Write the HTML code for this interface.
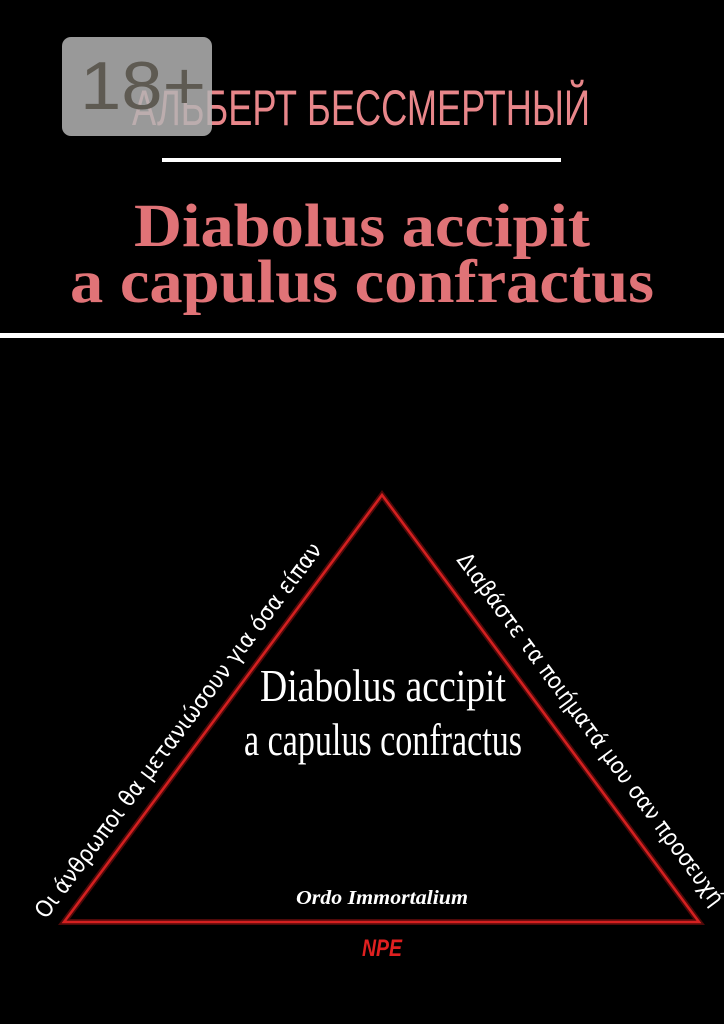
<!DOCTYPE html>
<html><head><meta charset="utf-8"><style>
html,body{margin:0;padding:0;background:#000;width:724px;height:1024px;overflow:hidden}
svg{display:block}
</style></head><body>
<svg width="724" height="1024" viewBox="0 0 724 1024" xmlns="http://www.w3.org/2000/svg">
<rect width="724" height="1024" fill="#000"/>
<text x="132" y="125" font-family="Liberation Sans, sans-serif" font-size="50" fill="#e8868a" textLength="458" lengthAdjust="spacingAndGlyphs">АЛЬБЕРТ БЕССМЕРТНЫЙ</text>
<rect x="62" y="37" width="150" height="99" rx="9" fill="#b4b4b4" fill-opacity="0.85"/>
<text x="80" y="109" font-family="Liberation Sans, sans-serif" font-size="68" fill="#5e5a52" textLength="126" lengthAdjust="spacingAndGlyphs">18+</text>
<rect x="162" y="158" width="399" height="4" fill="#fff"/>
<text x="362" y="246" text-anchor="middle" font-family="Liberation Serif, serif" font-weight="bold" font-size="61" fill="#e07377" textLength="456" lengthAdjust="spacingAndGlyphs">Diabolus accipit</text>
<text x="362" y="302" text-anchor="middle" font-family="Liberation Serif, serif" font-weight="bold" font-size="61" fill="#e07377" textLength="584" lengthAdjust="spacingAndGlyphs">a capulus confractus</text>
<rect x="0" y="333" width="724" height="5" fill="#fff"/>
<polygon points="382,495 64,922 699,922" fill="none" stroke="#e01a1a" stroke-width="6" stroke-opacity="0.35"/>
<polygon points="382,495 64,922 699,922" fill="none" stroke="#d42020" stroke-width="2.5"/>
<text transform="translate(46,920) rotate(-53.2)" font-family="DejaVu Sans, sans-serif" font-size="23" fill="#fff" textLength="462" lengthAdjust="spacingAndGlyphs">Οι άνθρωποι θα μετανιώσουν για όσα είπαν</text>
<text transform="translate(456,560) rotate(53.5)" font-family="DejaVu Sans, sans-serif" font-size="23" fill="#fff" textLength="432" lengthAdjust="spacingAndGlyphs">Διαβάστε τα ποιήματά μου σαν προσευχή</text>
<text x="383" y="701" text-anchor="middle" font-family="Liberation Serif, serif" font-size="46" fill="#fff" textLength="246" lengthAdjust="spacingAndGlyphs">Diabolus accipit</text>
<text x="383" y="755" text-anchor="middle" font-family="Liberation Serif, serif" font-size="46" fill="#fff" textLength="278" lengthAdjust="spacingAndGlyphs">a capulus confractus</text>
<text x="382" y="904" text-anchor="middle" font-family="Liberation Serif, serif" font-style="italic" font-weight="bold" font-size="20" fill="#fff" textLength="172" lengthAdjust="spacingAndGlyphs">Ordo Immortalium</text>
<text x="382" y="956" text-anchor="middle" font-family="Liberation Sans, sans-serif" font-style="italic" font-weight="bold" font-size="24" fill="#e02020" textLength="40" lengthAdjust="spacingAndGlyphs">NPE</text>
</svg>
</body></html>
